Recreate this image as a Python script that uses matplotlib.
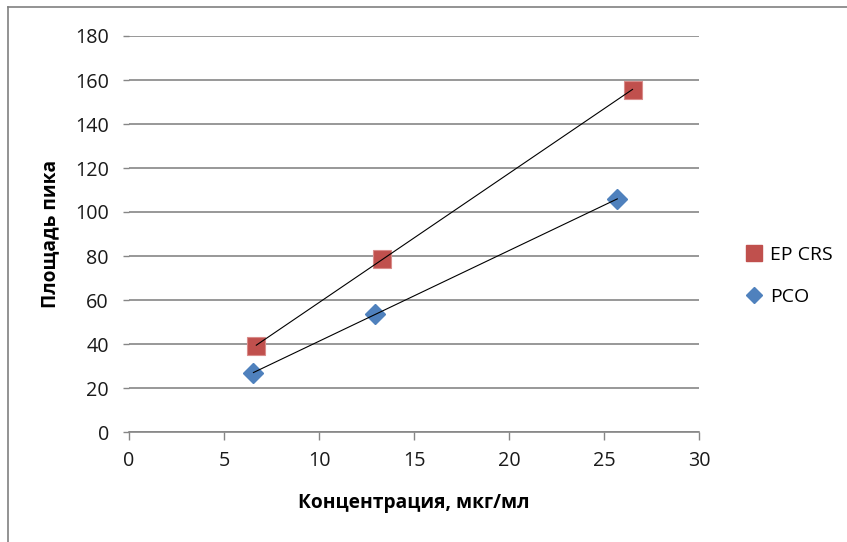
import numpy as np
import matplotlib
matplotlib.use("Agg")
import matplotlib.pyplot as plt
from matplotlib.lines import Line2D

# Data
ep_x = [6.7, 13.3, 26.5]
ep_y = [39.2, 78.6, 155.6]
pco_x = [6.55, 12.95, 25.7]
pco_y = [26.9, 53.6, 105.9]
series_names = ["EP CRS", "PCO"]
x_label = "Концентрация, мкг/мл"
y_label = "Площадь пика"
x_ticks = [0, 5, 10, 15, 20, 25, 30]
y_ticks = [0, 20, 40, 60, 80, 100, 120, 140, 160, 180]

RED = "#C0504D"
BLUE = "#4F81BD"
GRID = "#868686"
FONT = "Open Sans"

W, H = 847, 542
fig = plt.figure(figsize=(W / 100, H / 100), dpi=100)
fig.patch.set_facecolor("white")

ax = fig.add_axes([129 / W, 1 - 432 / H, (699 - 129) / W, (432 - 36) / H])
ax.set_xlim(0, 30)
ax.set_ylim(0, 180)
ax.set_xticks(x_ticks)
ax.set_yticks(y_ticks)
ax.set_xticklabels([str(t) for t in x_ticks], fontfamily=FONT, fontsize=14.2, color="#1a1a1a")
ax.set_yticklabels([str(t) for t in y_ticks], fontfamily=FONT, fontsize=14.2, color="#1a1a1a")

for s in ["left", "right", "top"]:
    ax.spines[s].set_visible(False)
ax.spines["bottom"].set_color(GRID)
ax.spines["bottom"].set_linewidth(1.2)
ax.tick_params(axis="y", length=4.5, width=1.0, color=GRID, pad=10)
ax.tick_params(axis="x", length=6, width=1.0, color=GRID, pad=8)
ax.yaxis.grid(True, color=GRID, linewidth=1.2)
ax.set_axisbelow(True)

# Trend lines (linear fit)
for xs, ys in [(ep_x, ep_y), (pco_x, pco_y)]:
    k, b = np.polyfit(xs, ys, 1)
    xx = np.array([min(xs), max(xs)])
    ax.plot(xx, k * xx + b, color="black", linewidth=0.8, zorder=4)

ax.plot(ep_x, ep_y, linestyle="none", marker="s", markersize=13,
        markerfacecolor=RED, markeredgecolor="#D98C8A", markeredgewidth=0.8, zorder=3)
ax.plot(pco_x, pco_y, linestyle="none", marker="D", markersize=10,
        markerfacecolor=BLUE, markeredgecolor=BLUE, markeredgewidth=1.0, zorder=3)

# Axis titles
fig.text(414 / W, 1 - 503 / H, x_label, ha="center", va="center",
         fontfamily=FONT, fontsize=13.8, fontweight="bold", color="black")
fig.text(50 / W, 1 - 234 / H, y_label, ha="center", va="center", rotation=90,
         fontfamily=FONT, fontsize=13.8, fontweight="bold", color="black")

# Legend
handles = [
    Line2D([], [], linestyle="none", marker="s", markersize=11, markerfacecolor=RED, markeredgecolor=RED),
    Line2D([], [], linestyle="none", marker="D", markersize=8.5, markerfacecolor=BLUE, markeredgecolor=BLUE),
]
leg = fig.legend(handles, series_names, loc="center left",
                 bbox_to_anchor=(746 / W, 1 - 276 / H), frameon=False,
                 prop={"family": FONT, "size": 14}, labelspacing=1.25,
                 handlelength=0.8, handletextpad=0.45, borderpad=0, borderaxespad=0)

# Outer frame (top and left visible)
fig.add_artist(Line2D([8 / W, 1], [1 - 7 / H, 1 - 7 / H], color="#808080", linewidth=1.2,
                      transform=fig.transFigure))
fig.add_artist(Line2D([8 / W, 8 / W], [0, 1 - 7 / H], color="#808080", linewidth=1.2,
                      transform=fig.transFigure))

fig.savefig("out.png", dpi=100, facecolor="white")
